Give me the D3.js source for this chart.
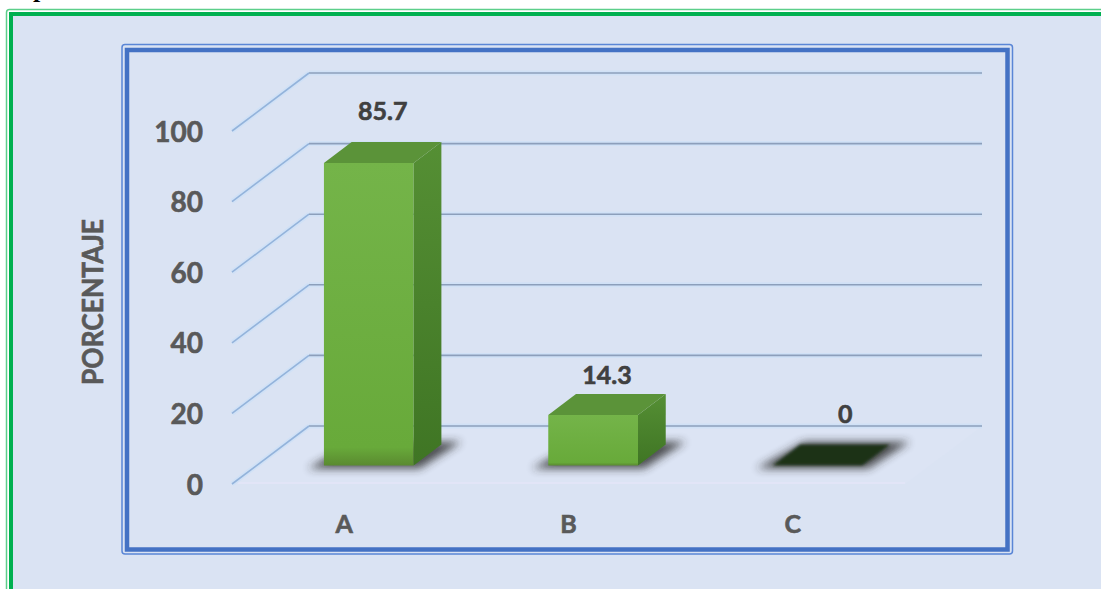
<!DOCTYPE html>
<html>
<head>
<meta charset="utf-8">
<script src="https://cdn.jsdelivr.net/npm/d3@7.9.0/dist/d3.min.js"></script>
<style>
  html, body { margin: 0; padding: 0; background: #fff; }
  svg { display: block; }
</style>
</head>
<body>
<div id="chart"></div>
<script>
// --- data ---
const categories = ["A", "B", "C"];
const values = [85.7, 14.3, 0];
const yTicks = [0, 20, 40, 60, 80, 100];
const axisTitle = "PORCENTAJE";

// --- layout constants ---
const W = 1101;
const H = 589;
const BG = "#dae3f3";
const DX = 77; // depth offset of the back wall
const DY = -58;
const T1 = 0.32; // bar front depth (fraction)
const T2 = 0.68; // bar back depth
const FONT = "Lato, 'Open Sans', sans-serif";

const x = d3.scaleBand().domain(categories).range([232, 905]).padding(0);
const y = d3.scaleLinear().domain([0, 100]).range([484, 131]);
const barW = x.bandwidth() * 0.4;

// project a front-plane point back by depth fraction t
const P = (px, py, t) => [px + t * DX, py + t * DY];

// bold text, a little heavier (like Calibri bold in the source)
const heavy = (sel, size, color) =>
  sel.attr("font-family", FONT).attr("font-weight", "bold").attr("font-size", size)
    .attr("fill", color).attr("stroke", color).attr("stroke-width", 0.6);

const svg = d3.select("#chart").append("svg").attr("width", W).attr("height", H);
const defs = svg.append("defs");

const gFront = defs.append("linearGradient").attr("id", "gFront").attr("x1", 0).attr("x2", 0).attr("y1", 0).attr("y2", 1);
gFront.append("stop").attr("offset", "0%").attr("stop-color", "#74b449");
gFront.append("stop").attr("offset", "94%").attr("stop-color", "#68aa3a");
gFront.append("stop").attr("offset", "100%").attr("stop-color", "#5a8a30");

const gSide = defs.append("linearGradient").attr("id", "gSide").attr("x1", 0).attr("x2", 0).attr("y1", 0).attr("y2", 1);
gSide.append("stop").attr("offset", "0%").attr("stop-color", "#558f34");
gSide.append("stop").attr("offset", "100%").attr("stop-color", "#3f7524");

defs.append("filter").attr("id", "blur").attr("x", "-30%").attr("y", "-60%").attr("width", "160%").attr("height", "220%")
  .append("feGaussianBlur").attr("stdDeviation", 4);
defs.append("filter").attr("id", "soft").attr("x", "-20%").attr("y", "-50%").attr("width", "140%").attr("height", "200%")
  .append("feGaussianBlur").attr("stdDeviation", 1.5);

// cut-off heading glyph at the very top (only its foot shows, as in the source)
svg.append("text")
  .attr("x", 33).attr("y", -3)
  .attr("font-family", "'Liberation Serif', serif")
  .attr("font-weight", "bold")
  .attr("font-size", 26)
  .text("p");

// outer green frame (runs off the page right and bottom)
svg.append("rect").attr("x", 11).attr("y", 14).attr("width", W + 40).attr("height", H + 40)
  .attr("fill", BG).attr("stroke", "#00b050").attr("stroke-width", 4);
svg.append("rect").attr("x", 6.5).attr("y", 9.5).attr("width", W + 40).attr("height", H + 40).attr("rx", 3)
  .attr("fill", "none").attr("stroke", "#5ccf8a").attr("stroke-width", 1.5);

// inner blue frame
svg.append("rect").attr("x", 122).attr("y", 44.5).attr("width", 890.5).attr("height", 509.5).attr("rx", 3)
  .attr("fill", "none").attr("stroke", "#5a86d6").attr("stroke-width", 1.5);
svg.append("rect").attr("x", 127).attr("y", 50).attr("width", 880.5).attr("height", 499.5)
  .attr("fill", BG).attr("stroke", "#4472c4").attr("stroke-width", 4.5);

// floor (barely visible)
const x0 = x.range()[0], x1 = x.range()[1];
svg.append("polygon")
  .attr("points", [P(x0, y(0), 0), P(x1, y(0), 0), P(x1, y(0), 1), P(x0, y(0), 1)].join(" "))
  .attr("fill", "#dce4f4");
svg.append("line")
  .attr("x1", x0 + 6).attr("x2", x1).attr("y1", y(0) - 1).attr("y2", y(0) - 1)
  .attr("stroke", "#e2e5f7").attr("stroke-width", 2);

// gridlines: halo then line, back wall + side wall
const grid = svg.append("g").attr("fill", "none");
[["#d0e1f6", 5], ["#8c9fbb", 1.6]].forEach(([c, w]) => {
  grid.append("g").selectAll("line").data(yTicks).join("line")
    .attr("x1", x0 + DX).attr("x2", x1 + DX)
    .attr("y1", (d) => y(d) + DY).attr("y2", (d) => y(d) + DY)
    .attr("stroke", c).attr("stroke-width", w);
  grid.append("g").selectAll("line").data(yTicks).join("line")
    .attr("x1", x0).attr("x2", x0 + DX)
    .attr("y1", (d) => y(d)).attr("y2", (d) => y(d) + DY)
    .attr("stroke", c === "#8c9fbb" ? "#93b3db" : c).attr("stroke-width", w);
});

// bars
const bars = categories.map((c, i) => {
  const cx = x(c) + x.bandwidth() / 2;
  return { c, v: values[i], l: cx - barW / 2, r: cx + barW / 2, cx };
});

// shadows on the floor
svg.append("g").selectAll("polygon").data(bars).join("polygon")
  .attr("points", (d) => [P(d.l - 16, y(0) + 3, T1), P(d.r + 6, y(0) + 3, T1), P(d.r + 16, y(0), T2 + 0.05), P(d.l, y(0), T2 + 0.05)].join(" "))
  .attr("fill", "#2b2b2b").attr("opacity", 0.8).attr("filter", "url(#blur)");

const barG = svg.append("g").selectAll("g").data(bars).join("g");
barG.filter((d) => d.v > 0).append("polygon")
  .attr("points", (d) => [P(d.l, y(0), T1), P(d.r, y(0), T1), P(d.r, y(d.v), T1), P(d.l, y(d.v), T1)].join(" "))
  .attr("fill", "url(#gFront)");
barG.filter((d) => d.v > 0).append("polygon")
  .attr("points", (d) => [P(d.r, y(0), T1), P(d.r, y(0), T2), P(d.r, y(d.v), T2), P(d.r, y(d.v), T1)].join(" "))
  .attr("fill", "url(#gSide)");
barG.append("polygon")
  .attr("points", (d) => [P(d.l, y(d.v), T1), P(d.r, y(d.v), T1), P(d.r, y(d.v), T2), P(d.l, y(d.v), T2)].join(" "))
  .attr("fill", (d) => (d.v > 0 ? "#5b9339" : "#1f3214"))
  .attr("filter", (d) => (d.v > 0 ? null : "url(#soft)"));

// value labels
svg.append("g").selectAll("text").data(bars).join("text")
  .attr("x", (d) => d.cx + DX * (T1 + T2) / 2 + (d.v === 0 ? 14 : 0))
  .attr("y", (d) => y(d.v) + DY * T2 - (d.v > 0 && d.v < 20 ? 10 : 22))
  .attr("text-anchor", "middle")
  .call(heavy, 25, "#404040")
  .text((d) => d.v);

// y axis labels
const yAxis = svg.append("g").attr("transform", "translate(203,0)")
  .call(d3.axisLeft(y).tickValues(yTicks).tickSize(0).tickPadding(0));
yAxis.select(".domain").remove();
yAxis.selectAll("text").call(heavy, 28, "#595959").attr("dy", "0.36em");

// category labels
const xAxis = svg.append("g").attr("transform", "translate(0,533)")
  .call(d3.axisBottom(x).tickSize(0).tickPadding(0));
xAxis.select(".domain").remove();
xAxis.selectAll("text").attr("y", 0).attr("dy", 0).call(heavy, 25, "#595959");

// axis title
svg.append("text")
  .attr("transform", "translate(103,302) rotate(-90)")
  .attr("text-anchor", "middle")
  .call(heavy, 28, "#595959")
  .attr("textLength", 166).attr("lengthAdjust", "spacingAndGlyphs")
  .text(axisTitle);
</script>
</body>
</html>
